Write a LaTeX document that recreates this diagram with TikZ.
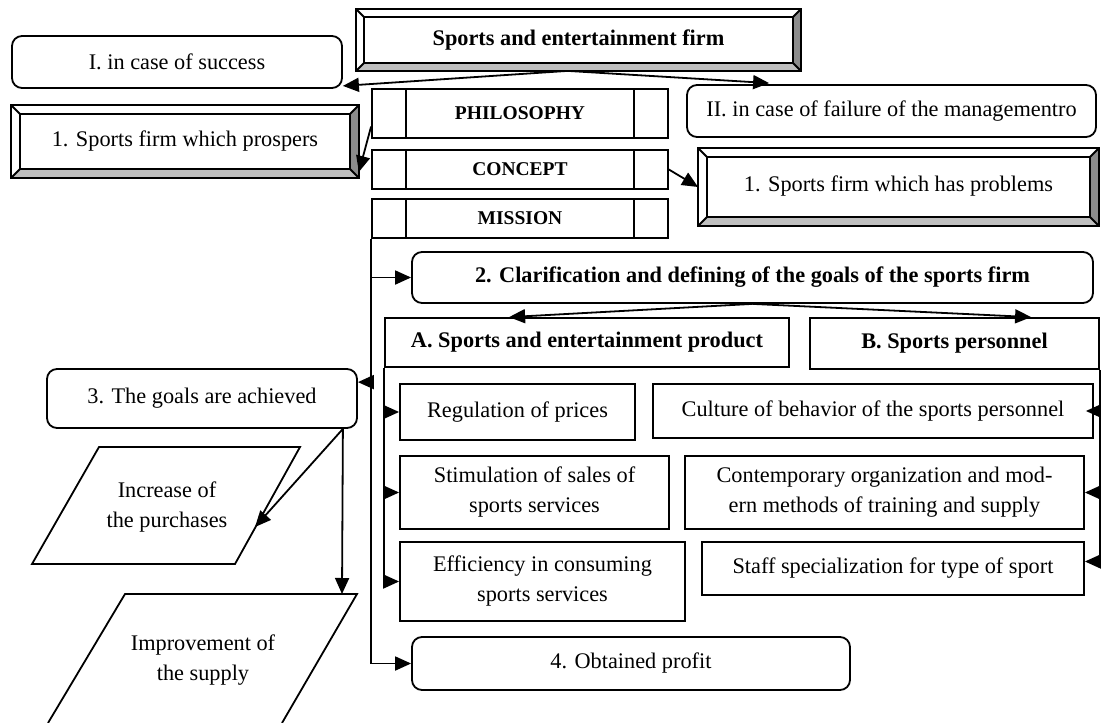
\documentclass[tikz,border=0pt]{standalone}
\usepackage{fontspec}
\setmainfont{Liberation Serif}
\usetikzlibrary{arrows.meta,calc}
\newcommand\bevelbox[2]{%
  \fill[black!25] (#1.south west) -- (#1.south east) -- ($(#1.south east)+(-#2,-#2)$) -- ($(#1.south west)+(#2,-#2)$) -- cycle;
  \fill[black!45] (#1.north east) -- (#1.south east) -- ($(#1.south east)+(-#2,-#2)$) -- ($(#1.north east)+(-#2,#2)$) -- cycle;
  \draw (#1.north west) rectangle (#1.south east);
  \draw ($(#1.north west)+(#2,#2)$) rectangle ($(#1.south east)+(-#2,-#2)$);
  \draw (#1.north west) -- ++(#2,#2);
  \draw (#1.north east) -- ++(-#2,#2);
  \draw (#1.south west) -- ++(#2,-#2);
  \draw (#1.south east) -- ++(-#2,-#2);
}
\newcommand\procbars[2]{%
  \draw ($(#1.north west)+(#2,0)$) -- ($(#1.south west)+(#2,0)$);
  \draw ($(#1.north east)+(-#2,0)$) -- ($(#1.south east)+(-#2,0)$);
}
\begin{document}
\begin{tikzpicture}[x=1pt,y=-1pt, line width=1.8pt,
  box/.style={draw, inner sep=0pt, align=center, font=\fontsize{22.3}{30}\selectfont},
  rbox/.style={box, rounded corners=10pt},
  bbox/.style={box, font=\fontsize{22.3}{28}\selectfont\bfseries},
  rbbox/.style={bbox, rounded corners=10pt},
  pbox/.style={box, font=\fontsize{19.5}{24}\selectfont\bfseries},
  bev/.style={inner sep=0pt, align=center},
  txt/.style={inner sep=0pt, align=center, font=\fontsize{22.3}{30}\selectfont},
  arr/.style={-{Triangle[length=16pt,width=14pt]}, line width=1.8pt},
]
\useasboundingbox (0,0) rectangle (1101,723);

% header and bevel boxes
\node[bev, minimum width=443, minimum height=60, font=\fontsize{22.3}{28}\selectfont\bfseries] (head) at (578.5,40) {Sports and entertainment firm};
\bevelbox{head}{8}
\node[bev, minimum width=346, minimum height=71, font=\fontsize{22.3}{28}\selectfont] (pros) at (185,141.5) {\raisebox{4pt}{1. Sports firm which prospers}};
\bevelbox{pros}{9}
\node[bev, minimum width=399, minimum height=76, font=\fontsize{22.3}{28}\selectfont] (prob) at (898.5,187) {\raisebox{7pt}{1. Sports firm which has problems}};
\bevelbox{prob}{9}
\coordinate (hsrc) at ($(head.south)+(-11,0)$);

% rounded boxes
\node[rbox, minimum width=330, minimum height=52] (succ) at (177,62) {I. in case of success};
\node[rbox, minimum width=409, minimum height=52] (fail) at (891.5,111) {II. in case of failure of the managementro};
\node[rbbox, minimum width=681, minimum height=51] (goals) at (752.5,277.5) {2. Clarification and defining of the goals of the sports firm};
\node[rbox, minimum width=310, minimum height=59] (ach) at (202,398.5) {3. The goals are achieved};
\node[rbox, minimum width=438, minimum height=53] (prof) at (631,663.5) {4. Obtained profit};

% process boxes
\node[pbox, minimum width=296, minimum height=49] (phil) at (520,113.5) {PHILOSOPHY};
\procbars{phil}{35}
\node[pbox, minimum width=296, minimum height=39] (conc) at (520,169.5) {CONCEPT};
\procbars{conc}{35}
\node[pbox, minimum width=296, minimum height=39] (miss) at (520,218.5) {MISSION};
\procbars{miss}{35}

% A and B
\node[bbox, minimum width=404, minimum height=49] (A) at (587,342.5) {A. Sports and entertainment product};
\node[bbox, minimum width=289, minimum height=51] (B) at (954.5,343.5) {B. Sports personnel};

\node[box, minimum width=235, minimum height=56] (reg) at (517.5,412) {Regulation of prices};
\node[box, minimum width=269, minimum height=73] (stim) at (534.5,492.5) {Stimulation of sales of\\sports services};
\node[box, minimum width=285, minimum height=79] (eff) at (542.5,581.5) {Efficiency in consuming\\sports services};
\node[box, minimum width=440, minimum height=54] (cult) at (873,411) {Culture of behavior of the sports personnel};
\node[box, minimum width=399, minimum height=73] (cont) at (884.5,492.5) {Contemporary organization and mod-\\ern methods of training and supply};
\node[box, minimum width=382, minimum height=53] (staff) at (893,568.5) {Staff specialization for type of sport};

% parallelograms
\draw (99,447) -- (300,447) -- (235,564) -- (32,564) -- cycle;
\node[txt] (inc) at (167,507) {Increase of\\the purchases};
\draw (48,723) -- (125,594) -- (357,594) -- (282,723);
\node[txt] (imp) at (203,660) {Improvement of\\the supply};
\coordinate (p1tip) at (255,527);
\coordinate (p2top) at (342,594);

% connectors
\draw[arr] (hsrc) -- ($(succ.south east)+(0,-3)$);
\draw[arr] (hsrc) -- ($(fail.north west)+(83,-1)$);
\draw[arr] ($(phil.west)+(0,13)$) -- ($(pros.south east)+(0,-6)$);
\draw[arr] (conc.east) -- (prob.west);

\draw[arr] (miss.south west) |- (prof.west);
\draw[arr] (miss.south west |- goals.west) -- (goals.west);
\draw[arr] ($(miss.south west |- ach.north east)+(0,14)$) -- ($(ach.north east)+(0,14)$);

\draw[arr] (goals.south) -- ($(A.north west)+(125,0)$);
\draw[arr] (goals.south) -- ($(B.north west)+(222,0)$);

\draw[arr] (A.south west) |- (eff.west);
\draw[arr] (A.south west |- reg.west) -- (reg.west);
\draw[arr] (A.south west |- stim.west) -- (stim.west);

\draw (B.south east) -- ($(B.south east |- staff.east)+(0,-7)$);
\draw[arr] (B.south east |- cult.east) -- ($(cult.east)+(-8,0)$);
\draw[arr] (B.south east |- cont.east) -- (cont.east);
\draw[arr] ($(B.south east |- staff.east)+(0,-7)$) -- ($(staff.east)+(0,-7)$);

\draw[arr] ($(ach.south east)+(-15,0)$) -- (p1tip);
\draw[arr] ($(ach.south east)+(-15,0)$) -- (p2top);
\end{tikzpicture}
\end{document}
